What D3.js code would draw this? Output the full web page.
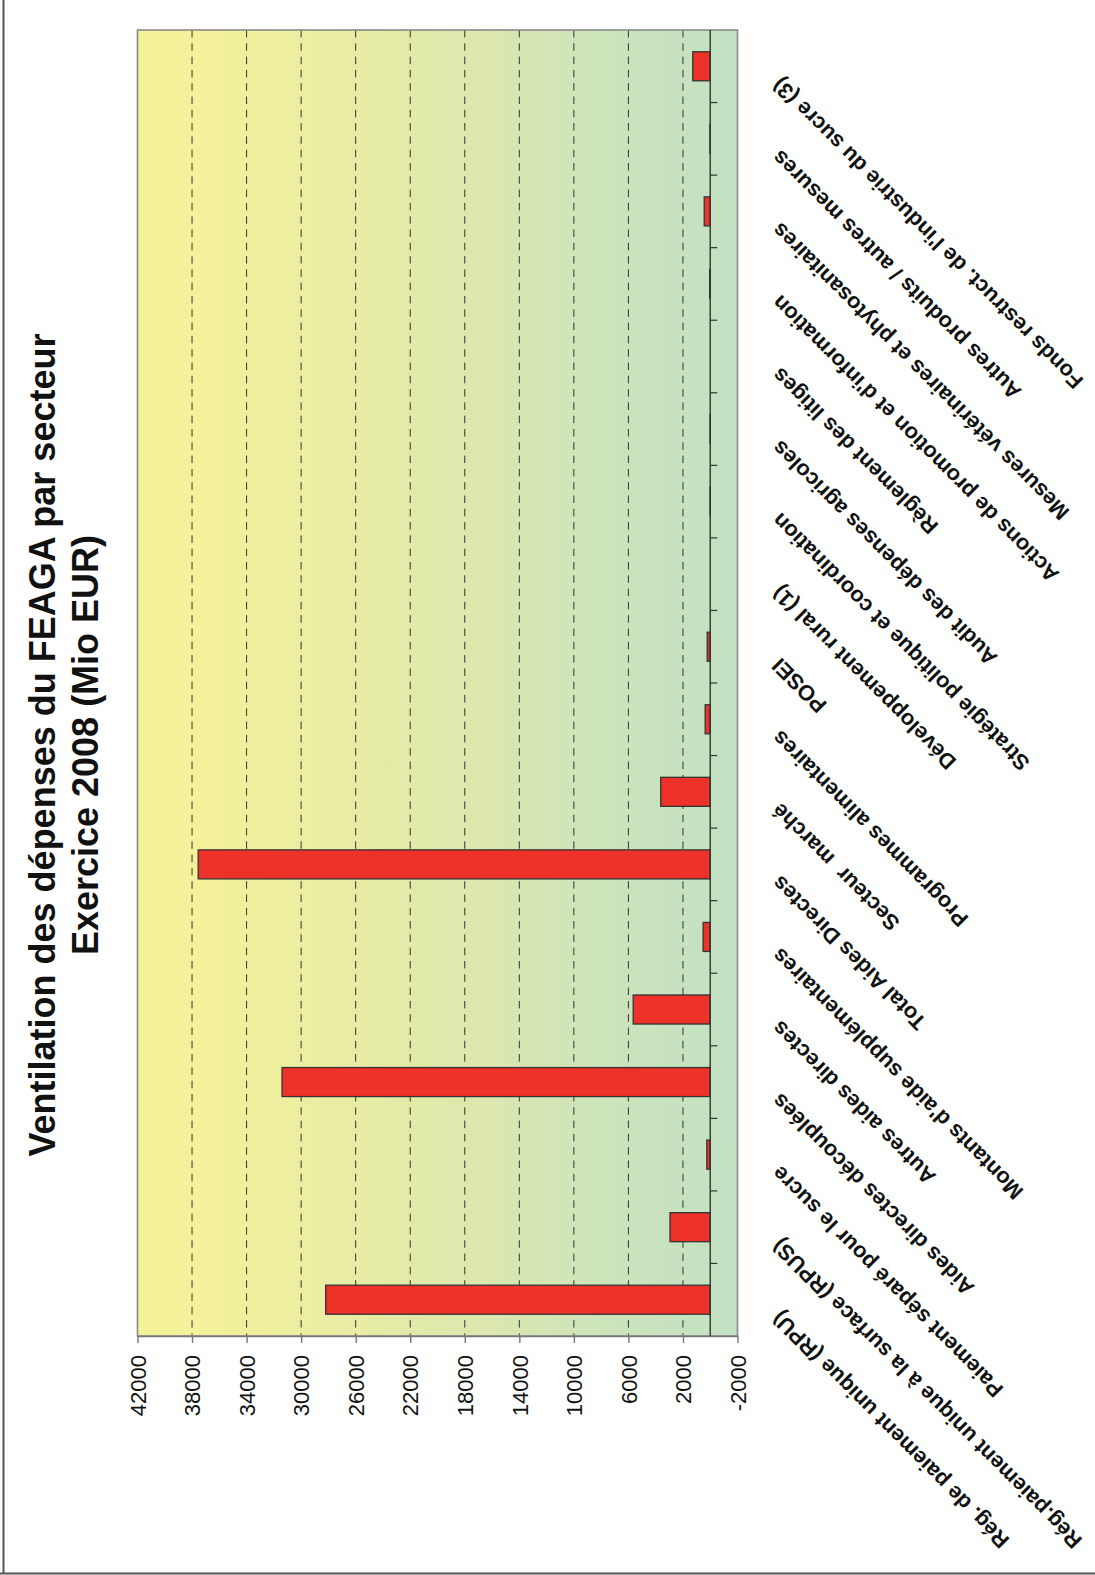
<!DOCTYPE html>
<html>
<head>
<meta charset="utf-8">
<script src="https://cdn.jsdelivr.net/npm/d3@7"></script>
<style>
  html, body { margin: 0; padding: 0; background: #fff; }
  svg { display: block; }
  text { font-family: "Liberation Sans", Arial, Helvetica, sans-serif; }
</style>
</head>
<body>
<svg id="chart" width="1095" height="1575"></svg>
<script>
// ---- data (original category order: first category is drawn at the bottom) ----
const categories = [
  "Rég. de paiement unique (RPU)",
  "Rég.paiement unique à la surface (RPUS)",
  "Paiement séparé pour le sucre",
  "Aides directes découplées",
  "Autres aides directes",
  "Montants d'aide supplémentaires",
  "Total Aides Directes",
  "Secteur  marché",
  "Programmes alimentaires",
  "POSEI",
  "Développement rural (1)",
  "Stratégie politique et coordination",
  "Audit des dépenses agricoles",
  "Règlement des litiges",
  "Actions de promotion et d'information",
  "Mesures vétérinaires et phytosanitaires",
  "Autres produits / autres mesures",
  "Fonds restruct. de l'industrie du sucre (3)"
];
const values = [28200, 2950, 250, 31400, 5650, 520, 37550, 3630, 370, 220, 0, 10, 10, 0, 40, 440, 20, 1280];
const tickValues = [42000, 38000, 34000, 30000, 26000, 22000, 18000, 14000, 10000, 6000, 2000, -2000];
const titleLines = ["Ventilation des dépenses du FEAGA par secteur", "Exercice 2008 (Mio EUR)"];

// ---- layout ----
const svg = d3.select("#chart");
const L = 137.5, R = 737.5, T = 30, B = 1336;

const x = d3.scaleLinear().domain([42000, -2000]).range([L, R]);
const y = d3.scaleBand().domain(categories.slice().reverse()).range([T, B])
  .paddingInner(0.6).paddingOuter(0.3);
const step = (B - T) / categories.length;

// outer frame (left + bottom)
svg.append("line").attr("x1", 3.5).attr("x2", 3.5).attr("y1", 0).attr("y2", 1574)
  .attr("stroke", "#555").attr("stroke-width", 2);
svg.append("line").attr("x1", 0).attr("x2", 1095).attr("y1", 1573.5).attr("y2", 1573.5)
  .attr("stroke", "#555").attr("stroke-width", 2);

// gradient background
const defs = svg.append("defs");
const grad = defs.append("linearGradient").attr("id", "bg").attr("x1", "0%").attr("x2", "100%").attr("y1", "0%").attr("y2", "0%");
[["0%", "#f5f298"], ["10%", "#f3f19a"], ["35%", "#e9eca3"], ["55%", "#dde8ad"], ["78%", "#cde4bb"], ["100%", "#c2e1c3"]]
  .forEach(([o, c]) => grad.append("stop").attr("offset", o).attr("stop-color", c));

svg.append("rect").attr("x", L).attr("y", T).attr("width", R - L).attr("height", B - T)
  .attr("fill", "url(#bg)");

// dashed gridlines
svg.append("g").selectAll("line")
  .data(tickValues.filter(v => v !== 42000 && v !== -2000))
  .join("line")
  .attr("x1", d => x(d)).attr("x2", d => x(d))
  .attr("y1", T).attr("y2", B)
  .attr("stroke", "#333").attr("stroke-width", 1)
  .attr("stroke-dasharray", "7.5,5.8");

// bars
svg.append("g").selectAll("rect")
  .data(categories.map((c, i) => ({ c, v: values[i] })).filter(d => d.v !== 0))
  .join("rect")
  .attr("x", d => Math.min(x(d.v), x(0)))
  .attr("width", d => Math.abs(x(0) - x(d.v)))
  .attr("y", d => y(d.c))
  .attr("height", y.bandwidth())
  .attr("fill", "#ee3129")
  .attr("stroke", "#333")
  .attr("stroke-width", 1.3);

// plot border
svg.append("rect").attr("x", L).attr("y", T).attr("width", R - L).attr("height", B - T)
  .attr("fill", "none").attr("stroke", "#8a8a8a").attr("stroke-width", 1.6);

// zero (category) axis line with ticks at band boundaries
const x0 = x(0);
svg.append("line").attr("x1", x0).attr("x2", x0).attr("y1", T).attr("y2", B)
  .attr("stroke", "#333").attr("stroke-width", 1.4);
svg.append("g").selectAll("line")
  .data(d3.range(1, categories.length))
  .join("line")
  .attr("x1", x0).attr("x2", x0 + 7)
  .attr("y1", k => T + k * step).attr("y2", k => T + k * step)
  .attr("stroke", "#333").attr("stroke-width", 1.2);

// value axis (bottom)
const axisG = svg.append("g").attr("transform", `translate(0,${B})`)
  .call(d3.axisBottom(x).tickValues(tickValues).tickSize(7).tickSizeOuter(0).tickFormat(d => String(d)));
axisG.select(".domain").attr("stroke", "#777").attr("stroke-width", 1.6);
axisG.selectAll(".tick line").attr("stroke", "#777").attr("stroke-width", 1.4);
axisG.selectAll(".tick text")
  .attr("font-size", 22)
  .attr("fill", "#111")
  .attr("text-anchor", "end")
  .attr("dy", "0.35em")
  .attr("y", 0)
  .attr("transform", "translate(0,19) rotate(-90)")
  .attr("x", 0);

// category labels
svg.append("g").selectAll("text")
  .data(categories)
  .join("text")
  .attr("transform", d => `translate(781,${y(d) + y.bandwidth() / 2 + 10}) rotate(-135)`)
  .attr("text-anchor", "end")
  .attr("font-size", 21.8)
  .attr("font-weight", "bold")
  .attr("fill", "#111")
  .style("white-space", "pre")
  .text(d => d);

// title
svg.append("g").selectAll("text")
  .data(titleLines)
  .join("text")
  .attr("transform", (d, i) => `translate(${55 + i * 43},745) rotate(-90)`)
  .attr("text-anchor", "middle")
  .attr("font-size", 36)
  .attr("font-weight", "bold")
  .attr("fill", "#111")
  .text(d => d);
</script>
</body>
</html>
